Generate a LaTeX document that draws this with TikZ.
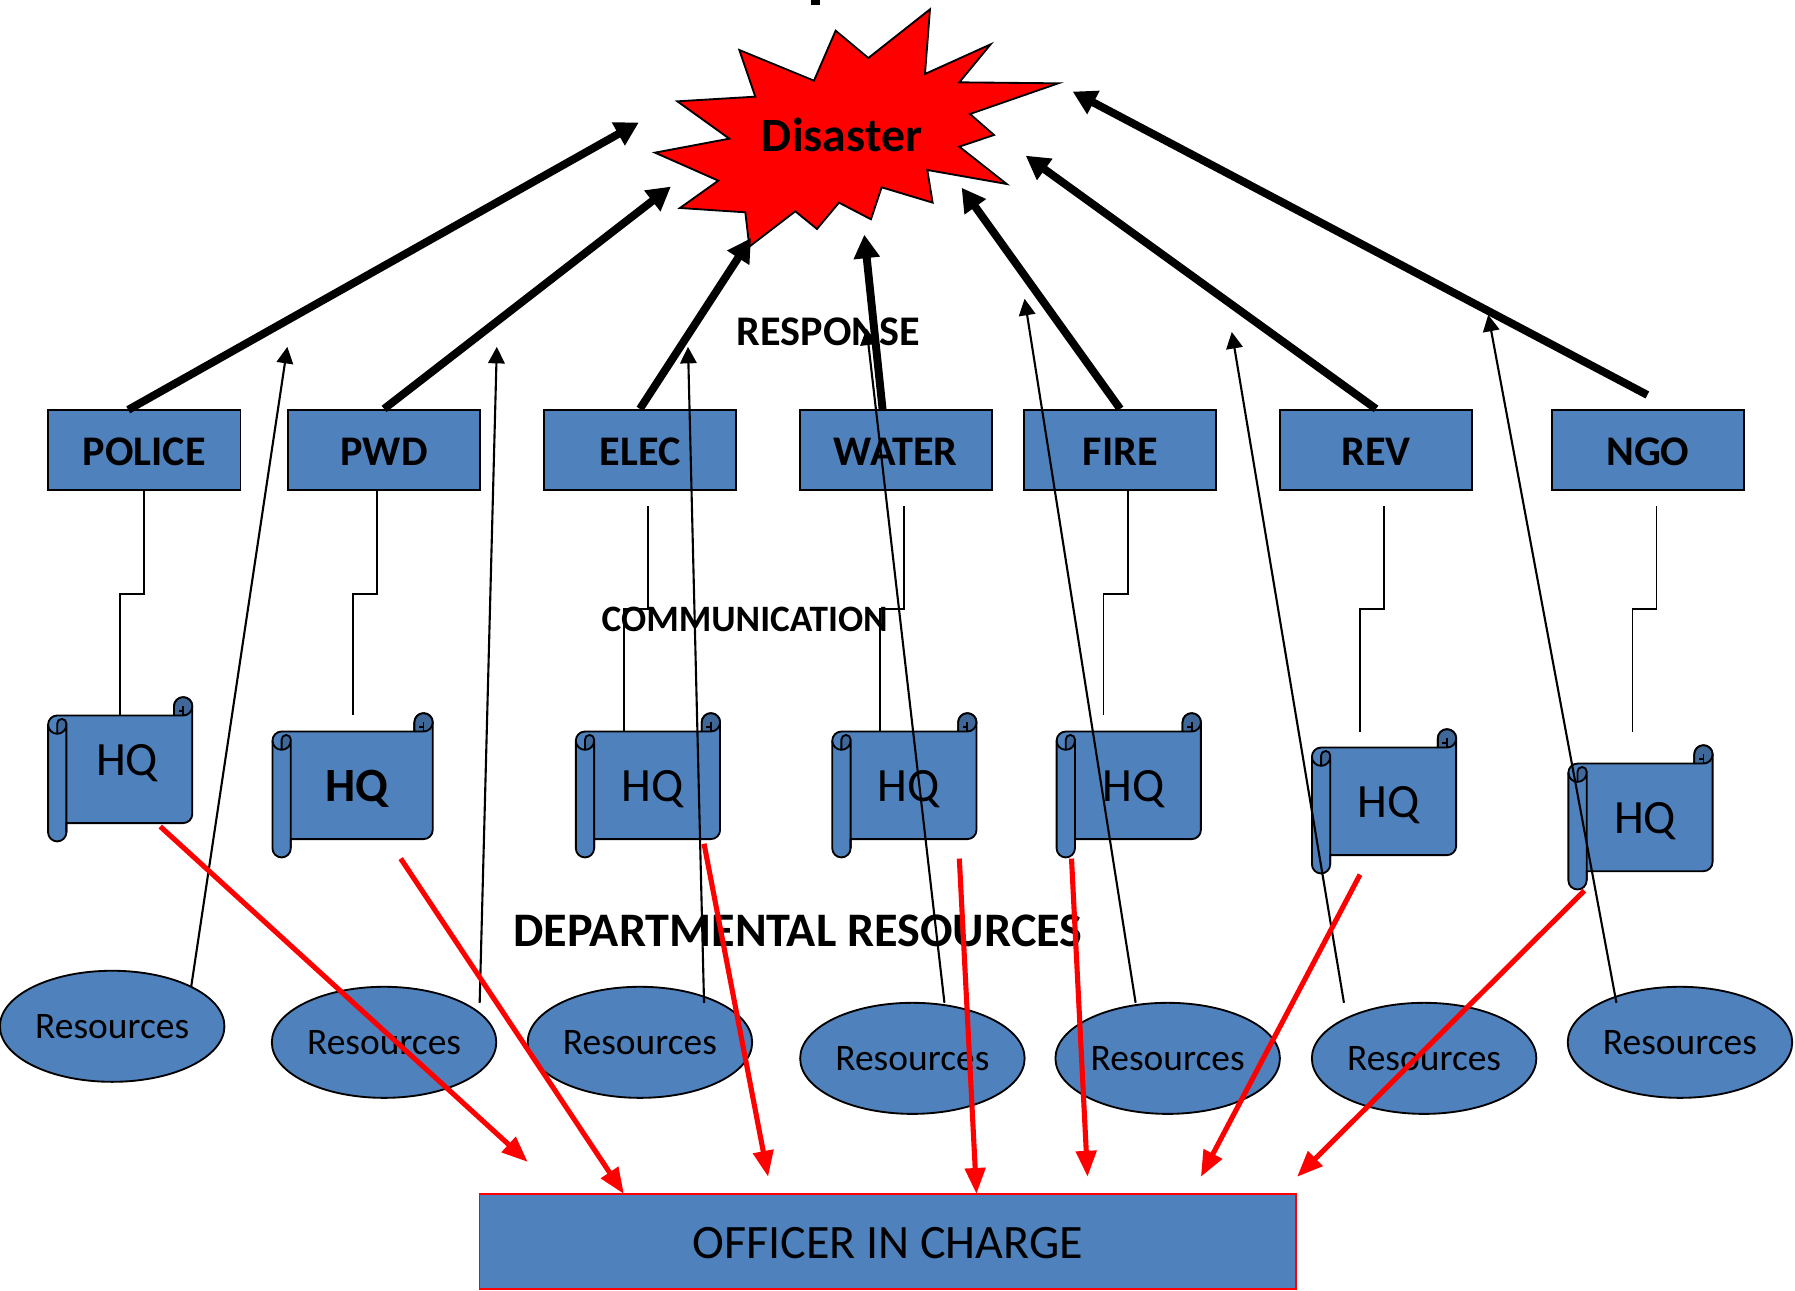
\documentclass[tikz,border=0pt]{standalone}
\usepackage{fontspec}
\setmainfont{Carlito}
\usetikzlibrary{arrows.meta,shapes.geometric}
\definecolor{blu}{HTML}{4F81BD}
\definecolor{blud}{HTML}{3F6797}
\newcommand{\fsz}[1]{\fontsize{#1}{#1}\selectfont}
\newcommand{\restext}{\raisebox{-1.2pt}{Resources}}
\tikzset{
  boxnode/.style={draw=black,fill=blu,line width=1.05pt,minimum width=3.846cm,minimum height=1.603cm,inner sep=0pt},
  boxtext/.style={inner sep=0pt,font=\fsz{24}\bfseries},
  resnode/.style={draw=black,fill=blu,line width=1.05pt,ellipse,minimum width=4.488cm,minimum height=2.221cm,inner sep=0pt,font=\fsz{21.3}},
  hqtext/.style={inner sep=0pt,font=\fsz{27.2}},
  lab/.style={inner sep=0pt,font=\fsz{24}\bfseries},
  thickarr/.style={line width=4.5pt,draw=black,-{Triangle[length=0.47cm,width=0.5cm]}},
  thinarr/.style={line width=1.2pt,draw=black,-{Triangle[length=0.33cm,width=0.33cm]}},
  redarr/.style={line width=2.9pt,draw=red,-{Triangle[length=0.52cm,width=0.4cm]}},
  elbow/.style={line width=1.05pt,draw=black},
  scrollline/.style={line width=1.05pt,draw=black,line join=round}
}
% #1 left, #2 top, #3 right, #4 bottom (y runs downward)
\newcommand{\hqscroll}[4]{%
  \draw[scrollline,fill=blu] ({#1+16},{#4-16}) -- ({#3-8},{#4-16})
    arc[start angle=90,end angle=0,radius=8] -- (#3,{#2+8})
    arc[start angle=0,end angle=-180,radius=8] -- ({#3-16},{#2+16}) -- ({#1+8},{#2+16})
    arc[start angle=-90,end angle=-180,radius=8] -- (#1,{#4-8})
    arc[start angle=180,end angle=0,radius=8] -- cycle;
  % dark cap, top right
  \fill[blud] ({#3-16},{#2+16}) -- ({#3-16},{#2+8})
    arc[start angle=-180,end angle=0,radius=8]
    arc[start angle=0,end angle=90,radius=8] -- cycle;
  \draw[scrollline] ({#3-16},{#2+16}) -- ({#3-16},{#2+8})
    arc[start angle=-180,end angle=0,radius=8] -- (#3,{#2+8})
    arc[start angle=0,end angle=90,radius=8] -- ({#3-16},{#2+16});
  \draw[scrollline] ({#3-8},{#2+16}) -- ({#3-8},{#2+8});
  \draw[scrollline] ({#3-8},{#2+12}) -- ({#3-12},{#2+12});
  % curl, top left
  \fill[blud] ({#1+8},{#2+32}) -- ({#1+8},{#2+23})
    arc[start angle=-180,end angle=0,radius=4]
    -- ({#1+16},{#2+24}) arc[start angle=0,end angle=90,radius=8] -- cycle;
  \draw[scrollline] ({#1+8},{#2+32}) -- ({#1+8},{#2+23})
    arc[start angle=-180,end angle=0,radius=4] -- ({#1+16},{#2+24});
  \draw[scrollline] (#1,{#2+24}) arc[start angle=180,end angle=0,radius=8] -- ({#1+16},{#4-8});
}
\begin{document}
\begin{tikzpicture}[x=0.022895cm,y=-0.022895cm]
\useasboundingbox (0,0) rectangle (1568,1127);
\clip (0,0) rectangle (1568,1127);

% clipped remnant at the top edge
\fill[black] (708,0) rectangle (716,4);

% burst
\begin{scope}[shift={(559.05,0)},scale=0.29117]
\draw[fill=red,draw=black,line width=1.05pt,line join=miter]
 (870,28)--(855,222)--(1052,133)--(958,247)--(1255,250)--(990,342)--(1062,405)--(958,440)
 --(1100,552)--(862,510)--(878,608)--(725,562)--(693,658)--(597,608)--(531,687)--(466,634)
 --(328,740)--(316,637)--(120,624)--(235,542)--(45,458)--(268,416)--(112,304)--(346,290)
 --(298,150)--(522,242)--(587,92)--(685,174)--cycle;
\end{scope}
\node[inner sep=0pt,font=\fsz{27.2}\bfseries] (disaster) at (735.5,118) {Disaster};

% departments
\node[boxnode] (police) at (126,393) {};
\node[boxnode] (pwd)    at (335.5,393) {};
\node[boxnode] (elec)   at (559,393) {};
\node[boxnode] (water)  at (782.5,393) {};
\node[boxnode] (fire)   at (978.5,393) {};
\node[boxnode] (rev)    at (1202,393) {};
\node[boxnode] (ngo)    at (1439.5,393) {};
\node[boxtext] at (126,395) {POLICE};
\node[boxtext] at (335.5,395) {PWD};
\node[boxtext] at (559,395) {ELEC};
\node[boxtext] at (782.5,395) {WATER};
\node[boxtext] at (978.5,395) {FIRE};
\node[boxtext] at (1202,395) {REV};
\node[boxtext] at (1439.5,395) {NGO};

% scrolls
\hqscroll{42}{609}{168}{735}
\hqscroll{238}{623}{378}{749}
\hqscroll{503}{623}{629}{749}
\hqscroll{727}{623}{853}{749}
\hqscroll{923}{623}{1049}{749}
\hqscroll{1146}{637}{1272}{763}
\hqscroll{1370}{651}{1496}{777}
\node[hqtext] (hq1) at (111,667) {HQ};
\node[hqtext,font=\fsz{27.2}\bfseries] (hq2) at (312,689) {HQ};
\node[hqtext] (hq3) at (570,689) {HQ};
\node[hqtext] (hq4) at (794,689) {HQ};
\node[hqtext] (hq5) at (990,689) {HQ};
\node[hqtext] (hq6) at (1213,703) {HQ};
\node[hqtext] (hq7) at (1437,717) {HQ};

% resources
\node[resnode] (r1) at (98,896.5) {\restext};
\node[resnode] (r2) at (335.5,910.5) {\restext};
\node[resnode] (r3) at (559,910.5) {\restext};
\node[resnode] (r4) at (797,924.5) {\restext};
\node[resnode] (r5) at (1020,924.5) {\restext};
\node[resnode] (r6) at (1244,924.5) {\restext};
\node[resnode] (r7) at (1467.5,910.5) {\restext};

% officer
\node[draw=red,fill=blu,line width=1.05pt,minimum width=16.324cm,minimum height=1.9cm,inner sep=0pt] (oic) at (775.5,1084.5) {};
\node[inner sep=0pt,font=\fsz{27.3}] at (775.5,1086) {OFFICER IN CHARGE};

% labels
\node[lab] at (723.5,290) {RESPONSE};
\node[lab,font=\fsz{21.2}\bfseries] at (650.5,541) {COMMUNICATION};
\node[lab,font=\fsz{27.4}\bfseries] at (697,813) {DEPARTMENTAL RESOURCES};

% named free ends
\coordinate (t1) at (558,107);   \coordinate (s1) at (112,358);
\coordinate (t2) at (586,163);
\coordinate (t3) at (656,208);
\coordinate (t4) at (755,205);   \coordinate (s4) at (771,358);
\coordinate (t5) at (840,164);
\coordinate (t6) at (896,136);
\coordinate (t7) at (937,80);    \coordinate (s7) at (1439,345);
\draw[thickarr] (s1) -- (t1);
\draw[thickarr] (pwd.north) -- (t2);
\draw[thickarr] (elec.north) -- (t3);
\draw[thickarr] (s4) -- (t4);
\draw[thickarr] (fire.north) -- (t5);
\draw[thickarr] (rev.north) -- (t6);
\draw[thickarr] (s7) -- (t7);

\coordinate (u1a) at (167,862); \coordinate (u1b) at (251,303);
\coordinate (u2a) at (419,876); \coordinate (u2b) at (434,303);
\coordinate (u3a) at (615,876); \coordinate (u3b) at (601,303);
\coordinate (u4a) at (825,876); \coordinate (u4b) at (757,287);
\coordinate (u5a) at (992,876); \coordinate (u5b) at (895,261);
\coordinate (u6a) at (1174,876); \coordinate (u6b) at (1076,290);
\coordinate (u7a) at (1412,876); \coordinate (u7b) at (1300,275);
\draw[thinarr] (u1a) -- (u1b);
\draw[thinarr] (u2a) -- (u2b);
\draw[thinarr] (u3a) -- (u3b);
\draw[thinarr] (u4a) -- (u4b);
\draw[thinarr] (u5a) -- (u5b);
\draw[thinarr] (u6a) -- (u6b);
\draw[thinarr] (u7a) -- (u7b);

\coordinate (v1a) at (140,722);  \coordinate (v1b) at (461,1015);
\coordinate (v2a) at (350,750);  \coordinate (v2b) at (545,1043);
\coordinate (v3a) at (615,737);  \coordinate (v3b) at (671,1028);
\coordinate (v4a) at (838,750);  \coordinate (v4b) at (853,1043);
\coordinate (v5a) at (936,750);  \coordinate (v5b) at (950,1028);
\coordinate (v6a) at (1188,764); \coordinate (v6b) at (1049,1028);
\coordinate (v7a) at (1384,778); \coordinate (v7b) at (1133,1028);
\draw[redarr] (v1a) -- (v1b);
\draw[redarr] (v2a) -- (v2b);
\draw[redarr] (v3a) -- (v3b);
\draw[redarr] (v4a) -- (v4b);
\draw[redarr] (v5a) -- (v5b);
\draw[redarr] (v6a) -- (v6b);
\draw[redarr] (v7a) -- (v7b);

% elbows
\coordinate (e1) at (105,625); \coordinate (e2) at (308,625);
\coordinate (e3a) at (566,442); \coordinate (e3) at (545,639);
\coordinate (e4a) at (790,442); \coordinate (e4) at (769,639);
\coordinate (e5) at (964,625);
\coordinate (e6a) at (1209,442); \coordinate (e6) at (1188,639);
\coordinate (e7a) at (1447,442); \coordinate (e7) at (1426,639);
\draw[elbow] (police.south) -- (126,519) -| (e1);
\draw[elbow] (329,428) -- (329,519) -| (e2);
\draw[elbow] (e3a) -- (566,532) -| (e3);
\draw[elbow] (e4a) -- (790,532) -| (e4);
\draw[elbow] (985,428) -- (985,519) -| (e5);
\draw[elbow] (e6a) -- (1209,532) -| (e6);
\draw[elbow] (e7a) -- (1447,532) -| (e7);
\end{tikzpicture}
\end{document}
